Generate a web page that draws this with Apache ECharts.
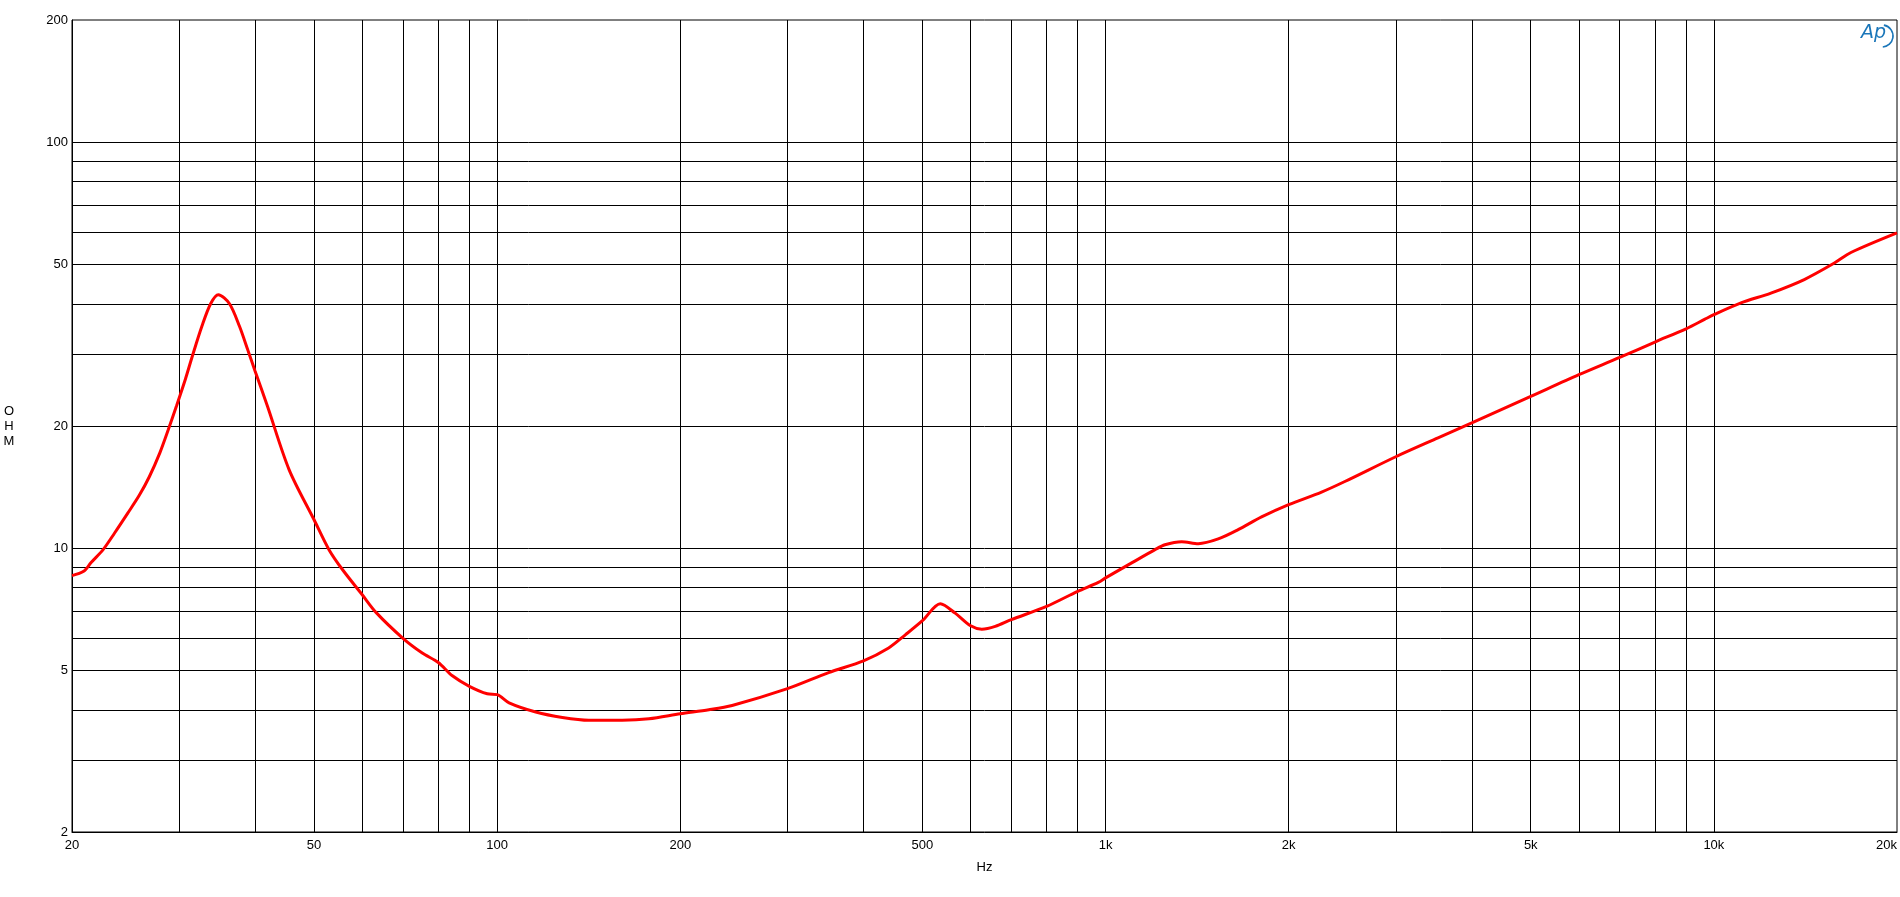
<!DOCTYPE html>
<html>
<head>
<meta charset="utf-8">
<script src="https://cdn.jsdelivr.net/npm/echarts@6/dist/echarts.min.js"></script>
<style>
html,body{margin:0;padding:0;background:#fff;}
#chart{width:1900px;height:897px;}
</style>
</head>
<body>
<div id="chart"></div>
<script>
// Frequency (Hz)
const freq = [20, 20.9, 21.5, 22.5, 23.5, 24.7, 25.8, 26.8, 27.9, 28.8, 29.7, 30.7, 31.6, 32.7, 33.8, 34.8, 36.3, 37.7, 38.9, 40, 41.9, 45.5, 50, 52.9, 55.7, 60, 63.2, 70, 75.3, 80, 84.4, 90, 96.3, 100, 104.6, 115.7, 128, 141.5, 160.5, 177.6, 200, 222.8, 243.3, 300, 350.6, 400, 440, 468.7, 500, 535, 566, 600, 626, 658.7, 700, 800, 900, 973, 1000, 1104, 1206, 1252, 1334, 1421, 1532, 1652, 1805, 2000, 2265, 2474, 3000, 3520, 4000, 5000, 6000, 7000, 8000, 9000, 9651, 10000, 11080, 12410, 14080, 15780, 16800, 20000];
// Impedance (Ohm)
const ohm = [8.56, 8.77, 9.22, 9.92, 10.9, 12.2, 13.5, 15.0, 17.2, 19.6, 22.4, 26.0, 30, 35.2, 40, 42.1, 40, 35.2, 30.8, 27.3, 22.4, 15.6, 11.75, 9.92, 8.85, 7.68, 6.95, 6.0, 5.52, 5.23, 4.85, 4.57, 4.38, 4.36, 4.16, 3.95, 3.83, 3.77, 3.77, 3.8, 3.91, 4.0, 4.10, 4.51, 4.94, 5.28, 5.68, 6.12, 6.63, 7.30, 6.92, 6.44, 6.32, 6.42, 6.67, 7.19, 7.83, 8.24, 8.45, 9.20, 9.92, 10.2, 10.38, 10.26, 10.54, 11.11, 11.94, 12.8, 13.75, 14.6, 16.8, 18.7, 20.35, 23.65, 26.75, 29.5, 32.2, 34.7, 36.6, 37.6, 40.2, 42.5, 45.9, 50.4, 53.5, 59.8];

// Axis labels and grid positions
const xLabelValues = [20, 50, 100, 200, 500, 1000, 2000, 5000, 10000, 20000];
const xLabelTexts = ['20', '50', '100', '200', '500', '1k', '2k', '5k', '10k', '20k'];
const xGridValues = [30, 40, 50, 60, 70, 80, 90, 100, 200, 300, 400, 500, 600, 700, 800, 900, 1000, 2000, 3000, 4000, 5000, 6000, 7000, 8000, 9000, 10000];
const yLabelValues = [2, 5, 10, 20, 50, 100, 200];
const yLabelTexts = ['2', '5', '10', '20', '50', '100', '200'];
const yGridValues = [3, 4, 5, 6, 7, 8, 9, 10, 20, 30, 40, 50, 60, 70, 80, 90, 100];

const seriesData = freq.map((f, i) => [f, ohm[i]]);

function labelFor(values, texts, v) {
  for (let i = 0; i < values.length; i++) {
    if (Math.abs(values[i] - v) / values[i] < 1e-6) return texts[i];
  }
  return '';
}

const font = '"Liberation Sans", Arial, sans-serif';
const chart = echarts.init(document.getElementById('chart'), null, {renderer: 'canvas'});
chart.setOption({
  animation: false,
  backgroundColor: '#fff',
  grid: {left: 72, right: 1, top: 20, bottom: 65, show: true, borderColor: '#000', borderWidth: 1, containLabel: false},
  xAxis: {
    type: 'log', logBase: 10, min: 20, max: 20000,
    name: 'Hz', nameLocation: 'middle', nameGap: 35,
    nameTextStyle: {fontFamily: font, fontSize: 13, color: '#000', verticalAlign: 'middle'},
    axisLine: {show: true, lineStyle: {color: '#000', width: 1}},
    axisTick: {show: false, customValues: xGridValues},
    splitLine: {show: true, lineStyle: {color: '#000', width: 1}},
    minorTick: {show: false}, minorSplitLine: {show: false},
    axisLabel: {
      customValues: xLabelValues, margin: 7, fontFamily: font, fontSize: 13, color: '#000',
      alignMaxLabel: 'right',
      formatter: v => labelFor(xLabelValues, xLabelTexts, v)
    }
  },
  yAxis: {
    type: 'log', logBase: 10, min: 2, max: 200,
    name: 'O\nH\nM', nameLocation: 'middle', nameGap: 63, nameRotate: 0,
    nameTextStyle: {fontFamily: font, fontSize: 13, color: '#000', align: 'center', verticalAlign: 'middle', lineHeight: 15},
    axisLine: {show: true, lineStyle: {color: '#000', width: 1}},
    axisTick: {show: false, customValues: yGridValues},
    splitLine: {show: true, lineStyle: {color: '#000', width: 1}},
    minorTick: {show: false}, minorSplitLine: {show: false},
    axisLabel: {
      customValues: yLabelValues, margin: 4, fontFamily: font, fontSize: 13, color: '#000',
      formatter: v => labelFor(yLabelValues, yLabelTexts, v)
    }
  },
  series: [{
    type: 'line',
    data: seriesData,
    showSymbol: false,
    smooth: 0.3,
    lineStyle: {color: '#ff0000', width: 3},
    z: 5
  }],
  graphic: [
    {type: 'text', left: 1861, top: 24, style: {text: 'Ap', fontFamily: '"DejaVu Sans", sans-serif', fontStyle: 'italic', fontSize: 19, fill: '#1a76b9'}, z: 10},
    {type: 'arc', shape: {cx: 1882, cy: 36, r: 11, startAngle: -1.4, endAngle: 1.5}, style: {stroke: '#1a76b9', lineWidth: 1.6, fill: null}, z: 10}
  ]
});
</script>
</body>
</html>
